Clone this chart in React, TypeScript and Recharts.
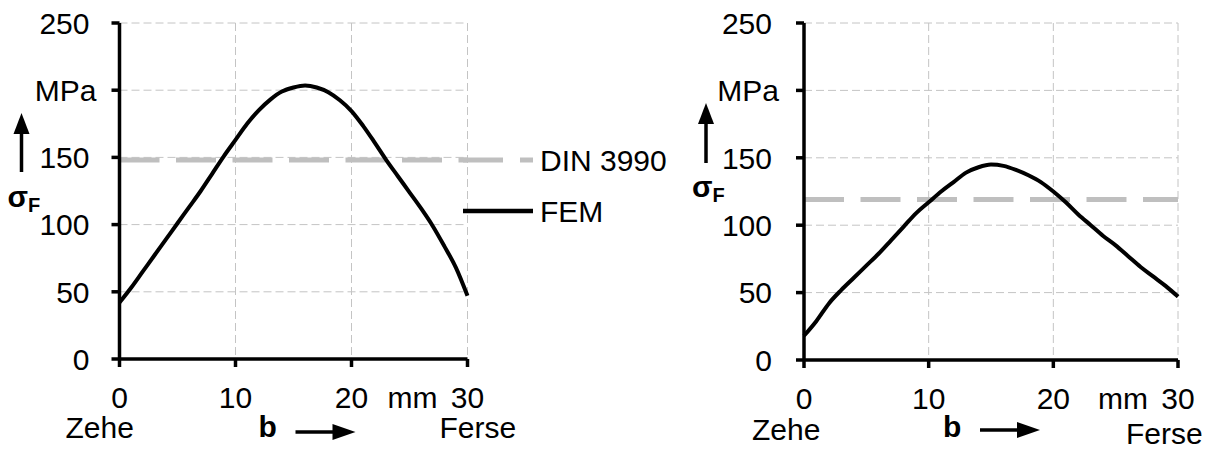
import React from "react";
import {
  LineChart,
  Line,
  XAxis,
  YAxis,
  CartesianGrid,
  Label,
  Customized,
} from "recharts";

// Position along the face width b in mm (Zehe = 0, Ferse = 30)
const bPositions = [
  0, 1, 2, 3, 4, 5, 6, 7, 8, 9, 10, 11, 12, 13, 14, 15, 16, 17, 18, 19, 20, 21,
  22, 23, 24, 25, 26, 27, 28, 29, 30,
];

// Tooth root stress σF in MPa from the FEM calculation, left flank set
const femLeft = [
  42, 53, 65, 77, 89, 101, 113, 125, 138, 151, 163, 175, 185, 193, 199, 202,
  203.5, 202, 198.5, 192.5, 184.5, 173.5, 161, 148, 136, 124, 112, 99, 84, 68,
  47,
];

// Tooth root stress σF in MPa from the FEM calculation, right flank set
const femRight = [
  18, 29, 42, 52, 61, 70, 79, 89, 99, 109, 117, 125, 132, 139, 143, 145, 144,
  141, 137, 132, 125, 117, 108, 100, 92, 85, 77, 69, 62, 55, 47,
];

// Nominal stress after DIN 3990 (constant across the face width)
const dinLeft = 148;
const dinRight = 119;

const xTicks = [0, 10, 20, 30];
const yTicks = [0, 50, 100, 150, 200, 250];
const yUnitTick = 200; // this tick carries the unit instead of the number
const yUnitLabel = "MPa";
const legendDin = "DIN 3990";
const legendFem = "FEM";

const FONT = "'Liberation Sans', Arial, Helvetica, sans-serif";
const FS = 30;
const W = 1214;
const H = 450;
const AXIS_W = 3.5;

type PanelCfg = {
  marginLeft: number;
  marginRight: number;
  marginTop: number;
  marginBottom: number;
  yTickMargin: number;
  zeheDx: number;
  zeheDy: number;
  ferseDx: number;
  ferseDy: number;
  arrowTop: number;
  arrowBottom: number;
  sigmaY: number;
  bDy: number;
  arrowDy: number;
  showLegend: boolean;
};

const leftCfg: PanelCfg = {
  marginLeft: 19.5,
  marginRight: W - 467.5,
  marginTop: 23,
  marginBottom: 11,
  yTickMargin: 22,
  zeheDx: -54,
  zeheDy: 79,
  ferseDx: -28,
  ferseDy: 79,
  arrowTop: 90,
  arrowBottom: 149,
  sigmaY: 184,
  bDy: 78,
  arrowDy: 73,
  showLegend: true,
};

const rightCfg: PanelCfg = {
  marginLeft: 704,
  marginRight: W - 1178,
  marginTop: 23,
  marginBottom: 10,
  yTickMargin: 24,
  zeheDx: -52,
  zeheDy: 80,
  ferseDx: -52,
  ferseDy: 84,
  arrowTop: 80,
  arrowBottom: 140,
  sigmaY: 174,
  bDy: 77,
  arrowDy: 70,
  showLegend: false,
};

const TICK_SIZE = 8;

function XTick(props: any) {
  const { x, y, payload, cfg } = props;
  const v = payload.value;
  const axisY = y - TICK_SIZE;
  return (
    <g fontFamily={FONT} fontSize={FS} fill="#000">
      <text x={x} y={axisY + 49} textAnchor="middle">
        {v}
      </text>
      {v === 0 && (
        <text x={x + cfg.zeheDx} y={axisY + cfg.zeheDy} textAnchor="start">
          Zehe
        </text>
      )}
      {v === 30 && (
        <>
          <text x={x - 30} y={axisY + 49} textAnchor="end">
            mm
          </text>
          <text x={x + cfg.ferseDx} y={axisY + cfg.ferseDy} textAnchor="start">
            Ferse
          </text>
        </>
      )}
    </g>
  );
}

function YTick(props: any) {
  const { x, y, payload } = props;
  const v = payload.value;
  const isUnit = v === yUnitTick;
  return (
    <text
      x={isUnit ? x + 7 : x}
      y={y}
      dy="0.36em"
      textAnchor="end"
      fontFamily={FONT}
      fontSize={FS}
      fill="#000"
    >
      {isUnit ? yUnitLabel : v}
    </text>
  );
}

function BArrowLabel(props: any) {
  const { viewBox, cfg } = props;
  const { x, y } = viewBox;
  const ay = y + cfg.arrowDy;
  const x0 = x + 176;
  const x1 = x + 236;
  return (
    <g>
      <text
        x={x + 139}
        y={y + cfg.bDy}
        fontFamily={FONT}
        fontSize={FS}
        fontWeight="bold"
        fill="#000"
      >
        b
      </text>
      <line x1={x0} y1={ay} x2={x1 - 20} y2={ay} stroke="#000" strokeWidth={3.5} />
      <polygon points={`${x1},${ay} ${x1 - 23},${ay - 8} ${x1 - 23},${ay + 8}`} fill="#000" />
    </g>
  );
}

function SigmaLabel(props: any) {
  const { viewBox, cfg } = props;
  const { x, y, width } = viewBox;
  const axisX = x + width;
  const ax = axisX - 98;
  const top = y + cfg.arrowTop;
  const bottom = y + cfg.arrowBottom;
  return (
    <g>
      <line x1={ax} y1={top + 16} x2={ax} y2={bottom} stroke="#000" strokeWidth={3.5} />
      <polygon points={`${ax},${top} ${ax - 8},${top + 21} ${ax + 8},${top + 21}`} fill="#000" />
      <text
        x={axisX - 112}
        y={y + cfg.sigmaY}
        fontFamily={FONT}
        fontSize={FS}
        fontWeight="bold"
        fill="#000"
      >
        σ
        <tspan fontSize={20} dy={5}>
          F
        </tspan>
      </text>
    </g>
  );
}

function LegendBlock() {
  const x0 = 463;
  const x1 = 533;
  const yDin = 160;
  const yFem = 211;
  return (
    <g fontFamily={FONT} fontSize={FS} fill="#000">
      <line
        x1={x0}
        y1={yDin}
        x2={x1}
        y2={yDin}
        stroke="#bfbfbf"
        strokeWidth={5}
        strokeDasharray="40 17"
      />
      <text x={540} y={yDin} dy="0.36em">
        {legendDin}
      </text>
      <line x1={x0} y1={yFem} x2={x1} y2={yFem} stroke="#000" strokeWidth={4.5} />
      <text x={540} y={yFem} dy="0.36em">
        {legendFem}
      </text>
    </g>
  );
}

function Panel({ fem, din, cfg }: { fem: number[]; din: number; cfg: PanelCfg }) {
  const data = bPositions.map((b, i) => ({ b, fem: fem[i], din }));
  return (
    <div style={{ position: "absolute", left: 0, top: 0 }}>
      <LineChart
        width={W}
        height={H}
        data={data}
        margin={{
          left: cfg.marginLeft,
          right: cfg.marginRight,
          top: cfg.marginTop,
          bottom: cfg.marginBottom,
        }}
      >
        <CartesianGrid stroke="#c4c4c4" strokeDasharray="8 4" strokeWidth={1} />
        <XAxis
          dataKey="b"
          type="number"
          domain={[0, 30]}
          ticks={xTicks}
          height={80}
          axisLine={{ stroke: "#000", strokeWidth: AXIS_W }}
          tickLine={{ stroke: "#000", strokeWidth: AXIS_W }}
          tickSize={TICK_SIZE}
          tickMargin={0}
          interval={0}
          tick={(p: any) => <XTick {...p} cfg={cfg} />}
        >
          <Label content={(p: any) => <BArrowLabel {...p} cfg={cfg} />} />
        </XAxis>
        <YAxis
          type="number"
          domain={[0, 250]}
          ticks={yTicks}
          width={100}
          axisLine={{ stroke: "#000", strokeWidth: AXIS_W }}
          tickLine={{ stroke: "#000", strokeWidth: AXIS_W }}
          tickSize={TICK_SIZE}
          tickMargin={cfg.yTickMargin}
          interval={0}
          tick={(p: any) => <YTick {...p} />}
        >
          <Label content={(p: any) => <SigmaLabel {...p} cfg={cfg} />} />
        </YAxis>
        <Line
          dataKey="din"
          type="linear"
          stroke="#bfbfbf"
          strokeWidth={5}
          strokeDasharray="40 16.5"
          dot={false}
          activeDot={false}
          isAnimationActive={false}
        />
        <Line
          dataKey="fem"
          type="monotone"
          stroke="#000"
          strokeWidth={4}
          dot={false}
          activeDot={false}
          isAnimationActive={false}
        />
        {cfg.showLegend && <Customized component={LegendBlock} />}
      </LineChart>
    </div>
  );
}

export default function App() {
  return (
    <div
      style={{
        position: "absolute",
        left: 0,
        top: 0,
        width: W,
        height: H,
        background: "#fff",
        overflow: "hidden",
      }}
    >
      <Panel fem={femLeft} din={dinLeft} cfg={leftCfg} />
      <Panel fem={femRight} din={dinRight} cfg={rightCfg} />
    </div>
  );
}
